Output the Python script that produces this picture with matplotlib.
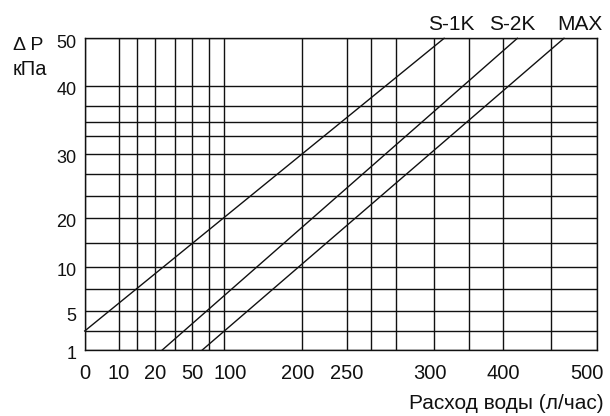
import numpy as np
import matplotlib
matplotlib.use("Agg")
import matplotlib.pyplot as plt
import matplotlib.transforms as mtransforms

plt.rcParams['font.family'] = ['Liberation Sans', 'DejaVu Sans']

# non-uniform chart scale: value at each grid line and where it sits (grid units)
x_grid_vals = [0, 10, 15, 20, 35, 50, 75, 100, 200, 250, 265, 280, 300, 350, 400, 450, 500]
x_grid_pos = [0, 34.3, 52.3, 70, 90.6, 107.3, 124, 139.6, 217.3, 262, 286, 311,
              349.6, 384.6, 418.6, 466.3, 512]
y_grid_vals = [1, 3, 5, 7.5, 10, 15, 20, 24, 27, 30, 32.5, 35, 37.5, 40, 50]
y_grid_pos = [0, 19, 38.7, 60.7, 83.3, 107.3, 132, 154.3, 176.3, 196.3, 213.7, 228,
              243.7, 264.3, 311.7]

x_labeled = [0, 10, 20, 50, 100, 200, 250, 300, 400, 500]
y_labeled = [1, 5, 10, 20, 30, 40, 50]

# valve curves: flow (l/h) vs pressure drop (kPa)
s1k_flow = [0, 314]
s1k_dp = [3, 50]
s2k_flow = [25.5, 414.7]
s2k_dp = [1, 50]
max_flow = [65.4, 464.2]
max_dp = [1, 50]

fig = plt.figure(figsize=(6.1, 4.16), dpi=100)
ax = fig.add_axes([0.1389, 0.1587, 0.8393, 0.7492])

ax.set_xscale('function', functions=(lambda v: np.interp(v, x_grid_vals, x_grid_pos),
                                     lambda p: np.interp(p, x_grid_pos, x_grid_vals)))
ax.set_yscale('function', functions=(lambda v: np.interp(v, y_grid_vals, y_grid_pos),
                                     lambda p: np.interp(p, y_grid_pos, y_grid_vals)))
ax.set_xlim(0, 500)
ax.set_ylim(1, 50)

ax.set_xticks(x_grid_vals)
ax.set_xticklabels([str(v) if v in x_labeled else "" for v in x_grid_vals])
ax.set_yticks(y_grid_vals)
ax.set_yticklabels([str(v) if v in y_labeled else "" for v in y_grid_vals])
ax.tick_params(axis='x', length=0, pad=10, labelsize=14.5, colors='#111111')
ax.tick_params(axis='y', length=0, pad=6, labelsize=13, colors='#111111')
ax.grid(True, color='#111111', linewidth=1.0)
for s in ax.spines.values():
    s.set_color('#111111')
    s.set_linewidth(1.0)

# nudge a few x labels like in the original
nudge = {100: 6, 200: -4, 300: -4, 500: -10}
for v, lab in zip(x_grid_vals, ax.get_xticklabels()):
    if v in nudge:
        lab.set_transform(lab.get_transform() +
                          mtransforms.ScaledTranslation(nudge[v] / 100, 0, fig.dpi_scale_trans))
for lab in ax.get_yticklabels():
    lab.set_transform(lab.get_transform() +
                      mtransforms.ScaledTranslation(0, -3 / 100, fig.dpi_scale_trans))

for fx, fy in [(s1k_flow, s1k_dp), (s2k_flow, s2k_dp), (max_flow, max_dp)]:
    ax.plot(fx, fy, color='#111111', linewidth=1.0, clip_on=False)

fig.text(0.7398, 0.9279, "S-1K", ha='center', va='baseline', fontsize=15, color='#111111')
fig.text(0.8393, 0.9279, "S-2K", ha='center', va='baseline', fontsize=15, color='#111111')
fig.text(0.9508, 0.9279, "MAX", ha='center', va='baseline', fontsize=15, color='#111111')

fig.text(0.0208, 0.8798, "Δ P", ha='left', va='baseline', fontsize=14, color='#111111')
fig.text(0.0208, 0.8197, "кПа", ha='left', va='baseline', fontsize=14.5, color='#111111')
fig.text(0.9902, 0.0161, "Расход воды (л/час)", ha='right', va='baseline',
         fontsize=15, color='#111111')

fig.savefig("out.png", dpi=100)
